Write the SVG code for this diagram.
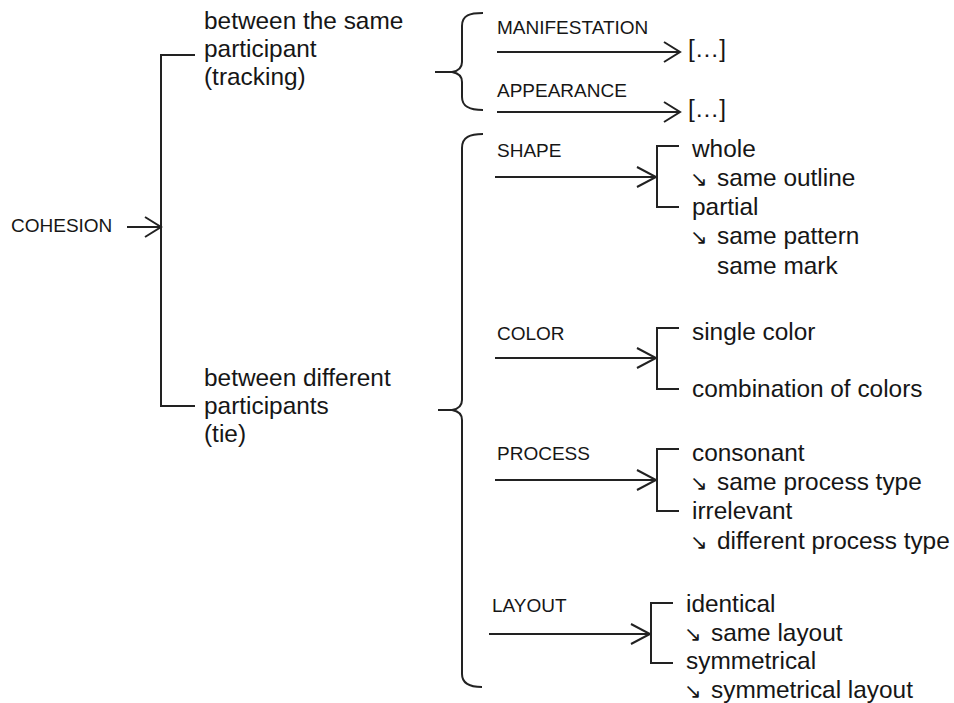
<svg xmlns="http://www.w3.org/2000/svg" width="954" height="703" viewBox="0 0 954 703">
<style>
text{font-family:"Liberation Sans",Arial,sans-serif;fill:#161616}
.t{font-size:24.4px}
.c{font-size:19px}
.ar{font-family:"DejaVu Sans",sans-serif;font-size:21px}
.ln{fill:none;stroke:#222;stroke-width:2;stroke-linecap:butt;stroke-linejoin:miter}
</style>
<rect width="954" height="703" fill="#fff"/>
<g id="connectors" class="ln">
<path d="M127,227 H160 M145,217 L161,227 L145,237"/>
<path d="M195,55 H161 V406 H195"/>
<path d="M483,13 C470,13 462,15 462,26 V62 C462,68 458,71 452,72 H435 M452,72 C458,73 462,76 462,82 V97 C462,107 470,110 483,110"/>
<path d="M483,134 C470,134 462,137 462,148 V400 C462,406 458,409 452,410 H438 M452,410 C458,411 462,414 462,420 V674 C462,684 470,687 482,687"/>
<path d="M497,52 H679 M664,42 L680,52 L664,62"/>
<path d="M497,112 H679 M664,102 L680,112 L664,122"/>
<path d="M495,177 H655 M637,167 L656,177 L637,187"/>
<path d="M679,146 H657 V207 H679"/>
<path d="M495,358 H655 M637,348 L656,358 L637,368"/>
<path d="M679,328 H657 V389 H679"/>
<path d="M495,480 H655 M637,470 L656,480 L637,490"/>
<path d="M679,449 H657 V511 H679"/>
<path d="M489,634 H649 M631,624 L650,634 L631,644"/>
<path d="M673,603 H651 V663 H673"/>
</g>
<g id="n-cohesion"><text class="c" x="11" y="232">COHESION</text></g>
<g id="n-same"><text class="t" x="204" y="29">between the same</text><text class="t" x="204" y="57">participant</text><text class="t" x="204" y="85">(tracking)</text></g>
<g id="n-different"><text class="t" x="204" y="386">between different</text><text class="t" x="204" y="414">participants</text><text class="t" x="204" y="442">(tie)</text></g>
<g id="n-manifestation"><text class="c" x="497" y="34">MANIFESTATION</text><text class="t" x="688" y="57">[…]</text></g>
<g id="n-appearance"><text class="c" x="497" y="97">APPEARANCE</text><text class="t" x="688" y="117">[…]</text></g>
<g id="n-shape"><text class="c" x="497" y="157">SHAPE</text>
<text class="t" x="692" y="157">whole</text>
<text class="t" x="690" y="186"><tspan class="ar">↘</tspan><tspan x="717">same outline</tspan></text>
<text class="t" x="692" y="215">partial</text>
<text class="t" x="690" y="244"><tspan class="ar">↘</tspan><tspan x="717">same pattern</tspan></text>
<text class="t" x="717" y="274">same mark</text></g>
<g id="n-color"><text class="c" x="497" y="340">COLOR</text>
<text class="t" x="692" y="340">single color</text>
<text class="t" x="692" y="397">combination of colors</text></g>
<g id="n-process"><text class="c" x="497" y="460">PROCESS</text>
<text class="t" x="692" y="461">consonant</text>
<text class="t" x="690" y="490"><tspan class="ar">↘</tspan><tspan x="717">same process type</tspan></text>
<text class="t" x="692" y="519">irrelevant</text>
<text class="t" x="690" y="549"><tspan class="ar">↘</tspan><tspan x="717">different process type</tspan></text></g>
<g id="n-layout"><text class="c" x="492" y="612">LAYOUT</text>
<text class="t" x="686" y="612">identical</text>
<text class="t" x="684" y="641"><tspan class="ar">↘</tspan><tspan x="711">same layout</tspan></text>
<text class="t" x="686" y="669">symmetrical</text>
<text class="t" x="684" y="698"><tspan class="ar">↘</tspan><tspan x="711">symmetrical layout</tspan></text></g>
</svg>
